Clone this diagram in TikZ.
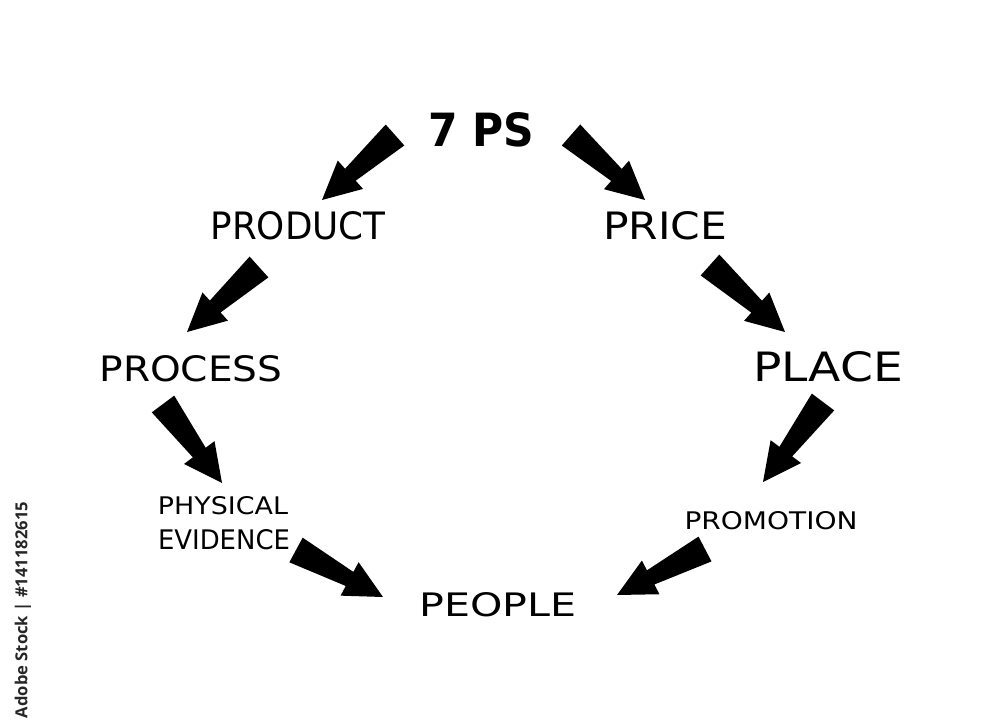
\documentclass[tikz,border=0pt]{standalone}
\usepackage{fontspec}
\usepackage{graphicx}
\setmainfont{DejaVu Sans}
\newfontfamily\stockfont{Open Sans}
\usetikzlibrary{calc}

\newdimen\pxunit
\pxunit=0.5pt
% text fitted to the width and cap height measured in pixels
\newcommand{\hand}[3]{\resizebox{#1\pxunit}{#2\pxunit}{#3}}

% fat tapered arrow from tail #1 to tip #2
\def\tailw{7pt}
\def\neckw{4pt}
\def\headw{9.5pt}
\def\headlen{19pt}
\newcommand{\blockarrow}[2]{%
    \coordinate (neck) at ($(#2)!\headlen!(#1)$);
    \fill[black] ($(#1)!\tailw!90:(#2)$) -- ($(neck)!\neckw!90:(#2)$)
        -- ($(neck)!\headw!90:(#2)$) -- (#2)
        -- ($(neck)!\headw!-90:(#2)$) -- ($(neck)!\neckw!-90:(#2)$)
        -- ($(#1)!\tailw!-90:(#2)$) -- cycle;}

\begin{document}
\begin{tikzpicture}[x=0.5pt,y=-0.5pt,lbl/.style={inner sep=0pt,text=black}]
    \useasboundingbox (0,0) rectangle (1000,727);

    % Labels
    \node[lbl] (sevenps)   at (481,130) {\hand{106}{34}{\bfseries 7 PS}};
    \node[lbl] (product)   at (298,226) {\hand{175}{28}{PRODUCT}};
    \node[lbl] (price)     at (665,226) {\hand{124}{28}{PRICE}};
    \node[lbl] (process)   at (191,369) {\hand{183}{26}{PROCESS}};
    \node[lbl] (place)     at (828,367) {\hand{150}{30}{PLACE}};
    \node[lbl] (physical)  at (223,506) {\hand{130}{18}{PHYSICAL}};
    \node[lbl] (evidence)  at (224,540) {\hand{132}{20}{EVIDENCE}};
    \node[lbl] (promotion) at (771,521) {\hand{173}{18}{PROMOTION}};
    \node[lbl] (people)    at (498,605) {\hand{157}{24}{PEOPLE}};

    % Arrow ends
    \coordinate (t1) at (395,135); \coordinate (h1) at (322,200);
    \coordinate (t2) at (571,135); \coordinate (h2) at (645,200);
    \coordinate (t3) at (259,267); \coordinate (h3) at (187,332);
    \coordinate (t4) at (163,404); \coordinate (h4) at (222,483);
    \coordinate (t5) at (296,550); \coordinate (h5) at (383,597);
    \coordinate (t6) at (710,265); \coordinate (h6) at (785,332);
    \coordinate (t7) at (823,402); \coordinate (h7) at (763,482);
    \coordinate (t8) at (705,549); \coordinate (h8) at (617,595);

    % Arrows
    \blockarrow{t1}{h1}
    \blockarrow{t2}{h2}
    \blockarrow{t3}{h3}
    \blockarrow{t4}{h4}
    \blockarrow{t5}{h5}
    \blockarrow{t6}{h6}
    \blockarrow{t7}{h7}
    \blockarrow{t8}{h8}

    % Stock id along the left edge
    \node[inner sep=0pt,rotate=90,text=black!85] (stockid) at (23,610)
        {\resizebox{216\pxunit}{!}{\stockfont\bfseries Adobe Stock | \#141182615}};
\end{tikzpicture}
\end{document}
